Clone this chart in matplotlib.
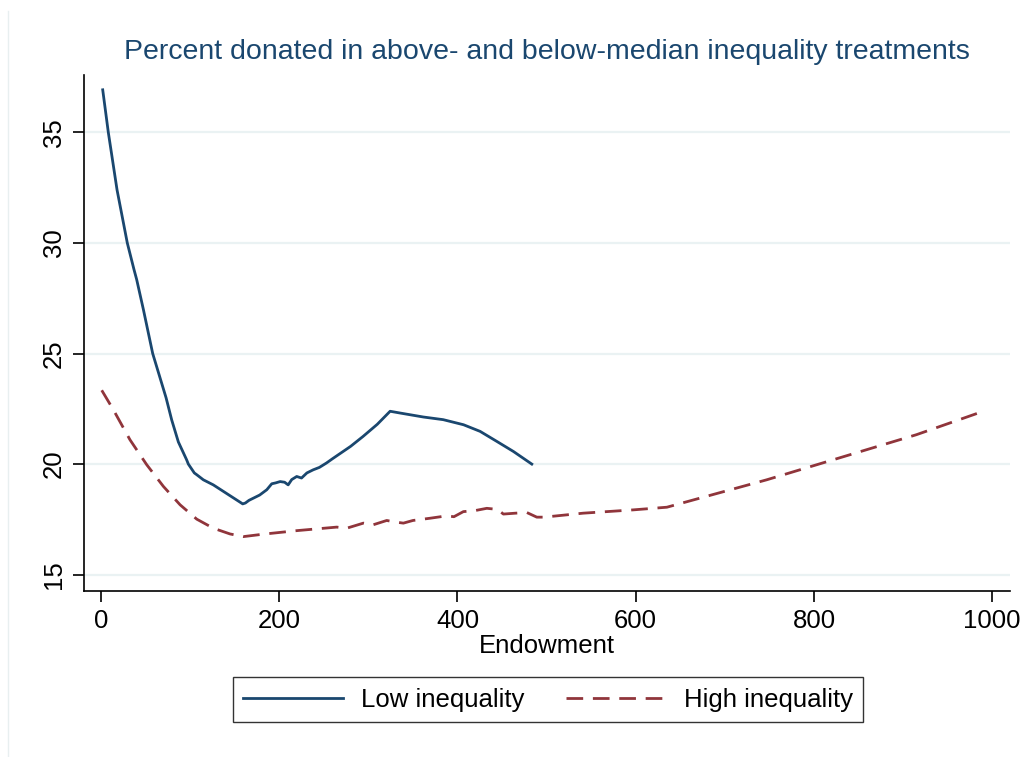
import matplotlib
matplotlib.use("Agg")
import matplotlib.pyplot as plt
from matplotlib.lines import Line2D

plt.rcParams['font.family'] = ['Liberation Sans', 'DejaVu Sans']

# Low inequality treatment: smoothed percent donated by endowment
low_x = [1.9, 8.2, 18, 29.5, 37, 40, 47.5, 58, 73, 79.3, 86.8, 96, 98, 104.7,
         107.4, 114.8, 126, 144.8, 159, 162, 166, 171, 178, 186, 191.6, 196,
         201, 206, 210, 214, 219.6, 225, 231, 238, 245, 253, 260, 268, 280,
         294, 310, 324.4, 335.6, 361.7, 384, 406.8, 425.4, 444, 462.8, 483.4]
low_y = [36.93, 35.0, 32.4, 30.0, 28.8, 28.35, 27.0, 25.0, 23.0, 22.0, 21.0,
         20.2, 20.0, 19.6, 19.52, 19.29, 19.06, 18.57, 18.2, 18.24, 18.36, 18.46,
         18.6, 18.84, 19.11, 19.15, 19.21, 19.18, 19.06, 19.3, 19.44, 19.37,
         19.6, 19.74, 19.85, 20.05, 20.25, 20.47, 20.8, 21.25, 21.8, 22.39,
         22.31, 22.13, 22.01, 21.78, 21.48, 21.03, 20.57, 20.0]

# High inequality treatment
high_x = [0.8, 13.8, 32.5, 51.3, 70, 88.7, 107.4, 126, 144.8, 159.7, 182,
          219.6, 264.5, 275.7, 294.4, 305, 320.6, 330, 339.3, 350, 369, 388,
          396, 406.6, 420, 432.9, 445, 451.5, 465, 477.8, 489, 497, 541, 597.4,
          635, 672, 747, 803, 859, 915, 990]
high_y = [23.34, 22.46, 21.1, 19.97, 18.99, 18.16, 17.51, 17.1, 16.84, 16.72,
          16.83, 16.99, 17.15, 17.1, 17.33, 17.25, 17.45, 17.38, 17.33, 17.45,
          17.55, 17.66, 17.62, 17.85, 17.9, 18.0, 17.95, 17.74, 17.78, 17.81,
          17.6, 17.6, 17.78, 17.93, 18.05, 18.46, 19.29, 19.97, 20.65, 21.33,
          22.39]

x_ticks = [0, 200, 400, 600, 800, 1000]
y_ticks = [15, 20, 25, 30, 35]

BLUE = '#1a476f'
RED = '#90353b'
GRID = '#eaf2f3'
FS = 18.5
TITLE_FS = 20.5

fig = plt.figure(figsize=(10.26, 7.57), dpi=100)
ax = fig.add_axes([84 / 1026, 1 - 591 / 757, (1010 - 84) / 1026, (591 - 75) / 757])

ax.plot(low_x, low_y, color=BLUE, lw=2.0, label='Low inequality',
        solid_joinstyle='round')
ax.plot(high_x, high_y, color=RED, lw=2.0, ls=(0, (6, 3.5)),
        label='High inequality')

ax.set_xlim(-19.1, 1020)
ax.set_ylim(14.26, 37.6)
ax.set_xticks(x_ticks)
ax.set_yticks(y_ticks)
ax.set_yticklabels([str(v) for v in y_ticks], rotation=90, va='center')
ax.tick_params(axis='both', direction='out', length=8, width=1.2,
               labelsize=FS, colors='black', pad=5)
ax.grid(axis='y', color=GRID, lw=1.6)
ax.set_axisbelow(True)
for side in ('top', 'right'):
    ax.spines[side].set_visible(False)
for side in ('left', 'bottom'):
    ax.spines[side].set_linewidth(1.2)

ax.set_xlabel('Endowment', fontsize=FS, labelpad=1)
fig.text(547 / 1026, 1 - 52 / 757,
         'Percent donated in above- and below-median inequality treatments',
         ha='center', va='center', fontsize=TITLE_FS, color=BLUE)

leg = fig.legend(loc='center', bbox_to_anchor=(548 / 1026, 1 - 699.5 / 757),
                 ncol=2, fontsize=FS, frameon=True, fancybox=False,
                 edgecolor='black', handlelength=3.9, handletextpad=0.7,
                 columnspacing=1.6, borderpad=0.4)
leg.get_frame().set_linewidth(1.0)

# faint outer border of the graph region
fig.add_artist(Line2D([8 / 1026, 8 / 1026], [0, 1 - 11 / 757],
                      transform=fig.transFigure, color='#e8eff0', lw=1))

fig.savefig('out.png', dpi=100, facecolor='white')
